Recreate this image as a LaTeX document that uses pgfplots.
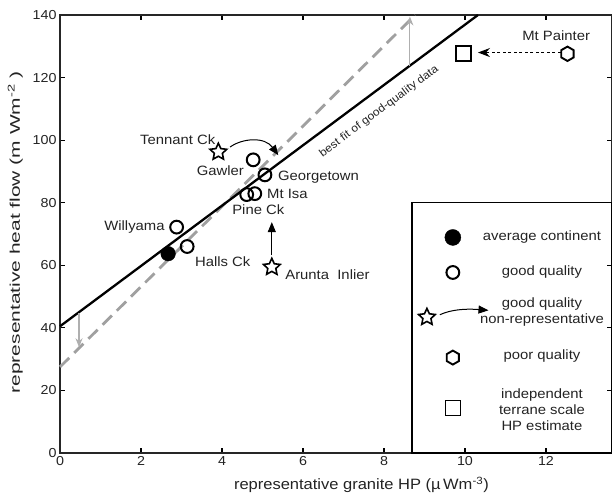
\documentclass[border=0pt]{standalone}
\usepackage{fontspec}
\setmainfont{Liberation Sans}[FakeStretch=1.1]
\usepackage{graphicx}
\usepackage{pgfplots}
\pgfplotsset{compat=1.18}
\usetikzlibrary{arrows.meta}

% open five-point star
\pgfdeclareplotmark{ostar}{%
  \pgfpathmoveto{\pgfpointpolar{90}{\pgfplotmarksize}}%
  \pgfpathlineto{\pgfpointpolar{126}{0.48\pgfplotmarksize}}%
  \pgfpathlineto{\pgfpointpolar{162}{\pgfplotmarksize}}%
  \pgfpathlineto{\pgfpointpolar{198}{0.48\pgfplotmarksize}}%
  \pgfpathlineto{\pgfpointpolar{234}{\pgfplotmarksize}}%
  \pgfpathlineto{\pgfpointpolar{270}{0.48\pgfplotmarksize}}%
  \pgfpathlineto{\pgfpointpolar{306}{\pgfplotmarksize}}%
  \pgfpathlineto{\pgfpointpolar{342}{0.48\pgfplotmarksize}}%
  \pgfpathlineto{\pgfpointpolar{18}{\pgfplotmarksize}}%
  \pgfpathlineto{\pgfpointpolar{54}{0.48\pgfplotmarksize}}%
  \pgfpathclose\pgfusepathqfillstroke}
% pointy-top hexagon
\pgfdeclareplotmark{ohex}{%
  \pgfpathmoveto{\pgfpointpolar{90}{\pgfplotmarksize}}%
  \pgfpathlineto{\pgfpointpolar{150}{\pgfplotmarksize}}%
  \pgfpathlineto{\pgfpointpolar{210}{\pgfplotmarksize}}%
  \pgfpathlineto{\pgfpointpolar{270}{\pgfplotmarksize}}%
  \pgfpathlineto{\pgfpointpolar{330}{\pgfplotmarksize}}%
  \pgfpathlineto{\pgfpointpolar{30}{\pgfplotmarksize}}%
  \pgfpathclose\pgfusepathqfillstroke}

\definecolor{fitgray}{RGB}{160,160,160}
\definecolor{arrgray}{RGB}{175,175,175}
\definecolor{txt}{RGB}{35,35,35}

\newcommand{\lab}{\fontsize{13.5}{15}\selectfont}
\newcommand{\leg}{\fontsize{13.5}{16}\selectfont}

\begin{document}
\begin{tikzpicture}
\useasboundingbox (-60pt,-47pt) rectangle (552pt,453pt);
\begin{axis}[
  scale only axis, width=552pt, height=438pt,
  xmin=0, xmax=13.63, ymin=0, ymax=140,
  xtick={0,2,...,12}, ytick={0,20,...,140},
  tick align=inside, major tick length=5pt,
  axis line style={line width=1.3pt, black!85},
  every tick/.style={black, line width=1.2pt},
  /pgf/number format/assume math mode=true,
  ticklabel style={font=\fontsize{13}{13}\selectfont, text=txt},
  xlabel={representative granite HP (µ\,Wm\textsuperscript{-3})},
  xlabel style={font=\fontsize{15}{15}\selectfont, text=txt, at={(rel axis cs:0.546,-0.083)}, anchor=base},
  ylabel={\scalebox{1.36}[1]{representative heat flow (m Wm\textsuperscript{-2} )}},
  ylabel style={font=\fontsize{14}{14}\selectfont, text=txt, at={(rel axis cs:-0.081,0.504)}, anchor=center},
  clip=false,
]
% fit lines
\addplot[fitgray, line width=2.8pt, dash pattern=on 13pt off 7pt] coordinates {(0,27.5) (8.77,140)};
\addplot[black, line width=2.3pt] coordinates {(0,40.5) (10.32,140)};

% gray shift arrows
\draw[arrgray, line width=1.1pt, -{Stealth[length=9pt,width=7pt]}] (axis cs:0.47,44.8) -- (axis cs:0.47,33.8);
\draw[arrgray, line width=1.1pt, -{Stealth[length=9pt,width=7pt]}] (axis cs:8.64,123.8) -- (axis cs:8.64,139.5);

% black annotation arrows
\draw[line width=1pt, -{Triangle[length=10pt,width=8pt]}] (axis cs:4.2,97.8) .. controls (axis cs:4.5,100.6) and (axis cs:5.05,101.2) .. (axis cs:5.39,95.2);
\draw[line width=1pt, -{Triangle[length=10pt,width=8pt]}] (axis cs:5.23,63.2) -- (axis cs:5.23,73.8);
\draw[line width=1.2pt, dash pattern=on 3pt off 2.5pt, -{Stealth[length=12pt,width=9pt]}] (axis cs:12.5,128) -- (axis cs:10.32,128);

% best fit label
\node[font=\fontsize{11}{11}\selectfont, text=txt, rotate=36.7] at (axis cs:7.88,109.2) {best fit of good-quality data};

% data points
\addplot[only marks, mark=*, mark size=7.3pt, mark options={fill=black, draw=black}] coordinates {(2.67,63.7)};
\addplot[only marks, mark=o, mark size=6.4pt, mark options={fill=white, draw=black, line width=2pt}] coordinates {
  (2.88,72.2) (3.14,66.0) (4.77,93.7) (5.06,88.9) (4.61,82.6) (4.81,82.9)};
\addplot[only marks, mark=ostar, mark size=8.8pt, mark options={fill=white, draw=black, line width=1.6pt}] coordinates {
  (3.91,96.2) (5.23,59.4)};
\addplot[only marks, mark=ohex, mark size=7.2pt, mark options={fill=white, draw=black, line width=1.9pt}] coordinates {(12.53,127.6)};
\addplot[only marks, mark=square, mark size=7.5pt, mark options={fill=white, draw=black, line width=1.5pt}] coordinates {(9.96,127.7)};

% point labels
\node[font=\lab, text=txt, anchor=base west, inner sep=0pt] at (axis cs:1.975,98.6) {Tennant Ck};
\node[font=\lab, text=txt, anchor=base west, inner sep=0pt] at (axis cs:3.375,88.7) {Gawler};
\node[font=\lab, text=txt, anchor=base west, inner sep=0pt] at (axis cs:5.38,87.1) {Georgetown};
\node[font=\lab, text=txt, anchor=base west, inner sep=0pt] at (axis cs:5.11,81.4) {Mt Isa};
\node[font=\lab, text=txt, anchor=base west, inner sep=0pt] at (axis cs:4.25,76.3) {Pine Ck};
\node[font=\lab, text=txt, anchor=base west, inner sep=0pt] at (axis cs:1.09,71.1) {Willyama};
\node[font=\lab, text=txt, anchor=base west, inner sep=0pt] at (axis cs:3.33,59.6) {Halls Ck};
\node[font=\lab, text=txt, anchor=base west, inner sep=0pt] at (axis cs:5.56,55.5) {Arunta\ \ Inlier};
\node[font=\lab, text=txt, anchor=base west, inner sep=0pt] at (axis cs:11.41,131.8) {Mt Painter};

% legend box
\draw[line width=1.3pt] (axis cs:8.69,0) rectangle (axis cs:13.63,80);
\addplot[only marks, mark=*, mark size=8pt, mark options={fill=black, draw=black}] coordinates {(9.70,68.9)};
\addplot[only marks, mark=o, mark size=6.4pt, mark options={fill=white, draw=black, line width=2pt}] coordinates {(9.70,57.7)};
\addplot[only marks, mark=ostar, mark size=8.8pt, mark options={fill=white, draw=black, line width=1.6pt}] coordinates {(9.06,43.4)};
\draw[line width=1pt, -{Triangle[length=10pt,width=8pt]}] (axis cs:9.38,44.2) .. controls (axis cs:9.65,45.8) and (axis cs:10.0,46.2) .. (axis cs:10.58,45.6);
\addplot[only marks, mark=ohex, mark size=7pt, mark options={fill=white, draw=black, line width=1.9pt}] coordinates {(9.70,30.5)};
\addplot[only marks, mark=square, mark size=7.5pt, mark options={fill=white, draw=black, line width=1.3pt}] coordinates {(9.70,14.3)};
\node[font=\leg, text=txt] at (axis cs:11.9,68.9) {average continent};
\node[font=\leg, text=txt] at (axis cs:11.9,57.7) {good quality};
\node[font=\leg, text=txt, align=center] at (axis cs:11.9,45.1) {good quality\\non-representative};
\node[font=\leg, text=txt] at (axis cs:11.9,30.9) {poor quality};
\node[font=\leg, text=txt, align=center] at (axis cs:11.9,14.0) {independent\\terrane scale\\HP estimate};
\end{axis}
\end{tikzpicture}
\end{document}
